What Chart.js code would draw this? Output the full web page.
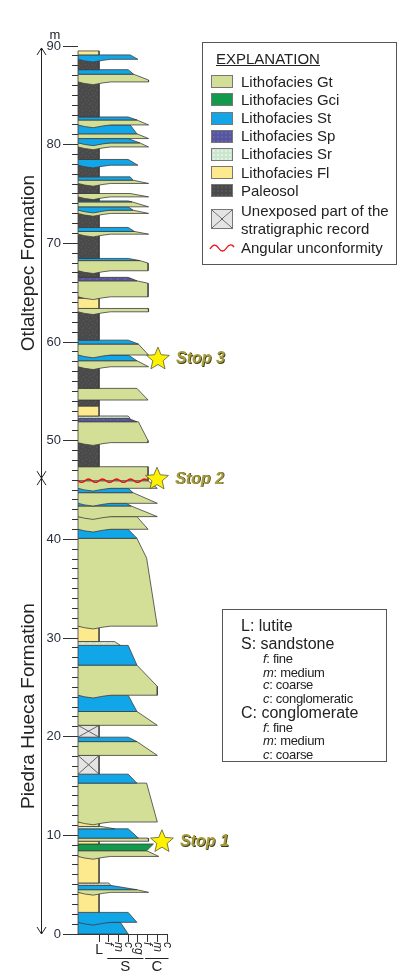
<!DOCTYPE html>
<html>
<head>
<meta charset="utf-8">
<script src="https://cdn.jsdelivr.net/npm/chart.js@4.4.1/dist/chart.umd.min.js"></script>
<style>
  html, body { margin: 0; padding: 0; background: #fff; }
  body { font-family: "Liberation Sans", Arial, sans-serif; color: #222; }
  #page { position: relative; width: 399px; height: 973px; overflow: hidden; }
  #column { position: absolute; left: 0; top: 0; }
  .box { position: absolute; border: 1px solid #555; box-sizing: border-box; }
  .box span { position: absolute; white-space: nowrap; }
  .big { font-size: 15px; line-height: 18px; }
  .small { font-size: 13px; line-height: 14px; letter-spacing: -0.3px; }
  .sw { position: absolute; left: 8px; width: 22px; height: 13px; box-sizing: border-box; border: 1px solid #777; }
</style>
</head>
<body>
<div id="page">
  <canvas id="column" width="399" height="973"></canvas>

  <div class="box" style="left:202px;top:42px;width:195px;height:223px">
    <span class="big" style="left:13px;top:7px;text-decoration:underline">EXPLANATION</span>
    <div class="sw" style="top:32px;background:#d3df97"></div><span class="big" style="left:38px;top:30px">Lithofacies Gt</span>
    <div class="sw" style="top:50px;background:#119a4b"></div><span class="big" style="left:38px;top:48px">Lithofacies Gci</span>
    <div class="sw" style="top:69px;background:#13a5e6"></div><span class="big" style="left:38px;top:66px">Lithofacies St</span>
    <div class="sw" style="top:87px;background:#55569d radial-gradient(#6b6cb2 0.6px, transparent 0.9px) 0 0/4px 4px"></div><span class="big" style="left:38px;top:84px">Lithofacies Sp</span>
    <div class="sw" style="top:105px;background:#cbe5ce radial-gradient(#eef8ee 0.6px, transparent 0.9px) 0 0/4px 4px"></div><span class="big" style="left:38px;top:102px">Lithofacies Sr</span>
    <div class="sw" style="top:123px;background:#fde98e"></div><span class="big" style="left:38px;top:121px">Lithofacies Fl</span>
    <div class="sw" style="top:141px;background:#4a4a4a radial-gradient(#5c5c5c 0.6px, transparent 0.9px) 0 0/4px 4px"></div><span class="big" style="left:38px;top:139px">Paleosol</span>
    <div class="sw" style="top:166px;height:20px;background:linear-gradient(to top right, transparent calc(50% - 0.6px), #555 50%, transparent calc(50% + 0.6px)), linear-gradient(to bottom right, transparent calc(50% - 0.6px), #555 50%, transparent calc(50% + 0.6px)), #e4e4e4"></div>
    <span class="big" style="left:38px;top:159px">Unexposed part of the</span>
    <span class="big" style="left:38px;top:177px">stratigraphic record</span>
    <svg style="position:absolute;left:6px;top:199px" width="26" height="12"><path d="M1 7 C4 2,7 2,9.5 6 S15 10,17.5 6 S23 2,25 5" fill="none" stroke="#e5131b" stroke-width="1.4"/></svg>
    <span class="big" style="left:38px;top:196px">Angular unconformity</span>
  </div>

  <div class="box" style="left:222px;top:609px;width:165px;height:153px">
    <span class="big" style="left:18px;top:7px;font-size:16px">L: lutite</span>
    <span class="big" style="left:18px;top:25px;font-size:16px">S: sandstone</span>
    <span class="small" style="left:40px;top:42px"><i>f</i>: fine</span>
    <span class="small" style="left:40px;top:56px"><i>m</i>: medium</span>
    <span class="small" style="left:40px;top:68px"><i>c</i>: coarse</span>
    <span class="small" style="left:40px;top:82px"><i>c</i>: conglomeratic</span>
    <span class="big" style="left:18px;top:94px;font-size:16px">C: conglomerate</span>
    <span class="small" style="left:40px;top:111px"><i>f</i>: fine</span>
    <span class="small" style="left:40px;top:124px"><i>m</i>: medium</span>
    <span class="small" style="left:40px;top:138px"><i>c</i>: coarse</span>
  </div>
</div>

<script>
// grain-size axis (0 = column edge, L = lutite, then sandstone and conglomerate classes)
const COLUMN_LEFT = -0.17;
const grainTicks = [2, 3, 4, 5, 6, 7, 8, 9];
const grainLabels = ['L', 'f', 'm', 'c', 'cg', 'f', 'm', 'c'];
const grainGroups = [['S', 3, 6], ['C', 7, 9]];

// beds: [base m, top m, facies, grain at base, grain at top, erosive base, [m, grain] bend]
const piedraHuecaBeds = [
    [0.00, 1.18, 'St', 5.0, 4.2],
    [1.18, 2.19, 'St', 5.9, 5.0, 1],
    [2.19, 4.22, 'Fl', 2, 2],
    [4.22, 4.49, 'Gt', 7.1, 5.9, 1],
    [4.49, 4.93, 'St', 5.9, 3.15],
    [4.93, 5.17, 'Sr', 3.2, 3.0],
    [5.17, 7.86, 'Fl', 2, 2],
    [7.86, 8.44, 'Gt', 8.15, 6.9, 1],
    [8.44, 9.12, 'Gci', 6.9, 7.6],
    [9.12, 9.40, 'Fl', 2, 2],
    [9.40, 9.72, 'Gt', 7.1, 7.05],
    [9.72, 10.66, 'St', 6.05, 5.0],
    [10.66, 10.90, 'Sr', 3.6, 2.2],
    [10.90, 11.35, 'Fl', 2, 2],
    [11.35, 15.29, 'Gt', 8.0, 6.9, 1],
    [15.29, 16.20, 'St', 5.9, 5.0],
    [16.20, 18.10, 'U', 2, 2],
    [18.10, 19.50, 'Gt', 8.0, 5.9],
    [19.50, 19.95, 'St', 5.9, 5.0],
    [19.95, 21.15, 'U', 2, 2],
    [21.15, 22.55, 'Gt', 8.0, 5.9],
    [22.55, 24.20, 'St', 5.9, 5.0],
    [24.20, 27.25, 'Gt', 8.0, 5.9, 1, [25.1, 8.0]],
    [27.25, 29.25, 'St', 5.9, 5.0],
    [29.25, 29.64, 'Sr', 4.2, 3.6],
    [29.64, 31.20, 'Fl', 2, 2],
    [31.20, 40.10, 'Gt', 8.0, 5.9, 1, [38.1, 6.9]],
    [40.10, 41.02, 'St', 5.9, 5.0],
    [41.02, 42.30, 'Gt', 7.05, 5.9, 1],
    [42.30, 43.38, 'Gt', 8.0, 5.3, 1],
    [43.38, 43.65, 'St', 5.3, 4.8],
    [43.65, 44.73, 'Gt', 8.0, 5.5, 1],
    [44.73, 45.17, 'St', 5.5, 5.0],
    [45.17, 45.94, 'Gt', 8.0, 7.05, 1],
];

const otlaltepecBeds = [
    [45.94, 47.36, 'Gt', 7.05, 7.05],
    [47.36, 49.80, 'P', 2, 2],
    [49.80, 51.92, 'Gt', 7.05, 6.05, 1, [50.0, 7.05]],
    [51.92, 52.26, 'Sp', 5.9, 5.0],
    [52.26, 52.50, 'Sr', 5.2, 5.0],
    [52.50, 53.51, 'Fl', 2, 2],
    [53.51, 54.12, 'P', 2, 2],
    [54.12, 55.30, 'Gt', 7.05, 5.9],
    [55.30, 57.49, 'P', 2, 2],
    [57.49, 58.10, 'Gt', 7.1, 5.9, 1],
    [58.10, 58.68, 'St', 5.9, 5.0],
    [58.68, 59.79, 'Gt', 7.1, 6.05, 1],
    [59.79, 60.19, 'St', 6.05, 5.0],
    [60.19, 63.06, 'P', 2, 2],
    [63.06, 63.40, 'Gt', 7.1, 7.05, 1],
    [63.40, 64.45, 'Fl', 2, 2],
    [64.45, 64.58, 'P', 2, 2],
    [64.58, 66.20, 'Gt', 7.05, 5.9, 1, [65.95, 7.05]],
    [66.20, 66.55, 'Sp', 5.9, 5.0],
    [66.55, 67.22, 'P', 2, 2],
    [67.22, 68.25, 'Gt', 7.05, 6.2, 1, [68.0, 7.05]],
    [68.25, 68.47, 'St', 6.2, 5.0],
    [68.47, 70.93, 'P', 2, 2],
    [70.93, 71.20, 'Gt', 7.1, 5.65, 1],
    [71.20, 71.61, 'St', 5.65, 5.0],
    [71.61, 73.03, 'P', 2, 2],
    [73.03, 73.36, 'Gt', 7.1, 5.5, 1],
    [73.36, 73.70, 'St', 5.5, 5.0, 1],
    [73.70, 74.20, 'Gt', 7.1, 5.4],
    [74.20, 74.30, 'St', 5.4, 5.0],
    [74.30, 74.71, 'P', 2, 2],
    [74.71, 75.05, 'Gt', 7.1, 5.2, 1],
    [75.05, 76.07, 'P', 2, 2],
    [76.07, 76.40, 'Gt', 7.1, 5.5, 1],
    [76.40, 76.74, 'St', 5.5, 5.2],
    [76.74, 77.92, 'P', 2, 2],
    [77.92, 78.50, 'St', 6.0, 5.0, 1],
    [78.50, 79.77, 'P', 2, 2],
    [79.77, 80.18, 'Gt', 7.1, 6.2, 1],
    [80.18, 80.62, 'St', 6.2, 5.0, 1],
    [80.62, 81.10, 'Gt', 7.1, 5.9],
    [81.10, 82.00, 'St', 5.9, 5.2],
    [82.00, 82.50, 'Gt', 7.1, 5.9, 1],
    [82.50, 82.81, 'St', 5.9, 5.0],
    [82.81, 86.36, 'P', 2, 2],
    [86.36, 87.14, 'Gt', 7.1, 5.55, 1, [86.55, 7.1]],
    [87.14, 87.60, 'St', 5.55, 5.0],
    [87.60, 88.65, 'P', 2, 2],
    [88.65, 89.10, 'St', 6.0, 5.2, 1],
    [89.10, 89.50, 'Fl', 2, 2],
];

// field stops: [label, m, grain position]
const stops = [['Stop 1', 9.45, 8.48], ['Stop 2', 46.2, 7.97], ['Stop 3', 58.37, 8.07]];
// formations: [name, base m, top m]
const formations = [['Piedra Hueca Formation', 0, 46.2], ['Otlaltepec Formation', 46.2, 89.8]];
// angular unconformity: [m, reaches grain]
const unconformity = [45.94, 7.05];

/* look of the beds */
function speckle(base, dot) {
    const c = document.createElement('canvas');
    c.width = 7; c.height = 7;
    const g = c.getContext('2d');
    g.fillStyle = base;
    g.fillRect(0, 0, 7, 7);
    g.fillStyle = dot;
    [[1, 1], [4, 2], [2, 4], [6, 5], [5, 6]].forEach(([a, b]) => g.fillRect(a, b, 1, 1));
    return g.createPattern(c, 'repeat');
}
const faciesFill = {
    Gt: '#d3df97',
    Gci: '#119a4b',
    St: '#10a6e8',
    Sp: speckle('#55569d', '#6a6bb0'),
    Sr: speckle('#cbe5ce', '#eaf6eb'),
    Fl: '#fde98e',
    P: speckle('#4a4a4a', '#595959'),
    U: '#e4e4e4',
};
// shape of an erosive (scoured) base across the column: [grain, depth below base]
const SCOUR = [[3.2, 0], [2.4, 0.1], [1.4, 0.28], [0.5, 0.16]];

function bedOutline(bed) {
    const [base, top, , gBase, gTop, erosive, bend] = bed;
    const pts = [{x: COLUMN_LEFT, y: top}, {x: gTop, y: top}];
    if (bend) pts.push({x: bend[1], y: bend[0]});
    pts.push({x: gBase, y: base});
    if (erosive) SCOUR.forEach(([g, d]) => pts.push({x: g, y: base - d}));
    pts.push({x: COLUMN_LEFT, y: base});
    pts.push({x: COLUMN_LEFT, y: top});
    return pts;
}

const allBeds = piedraHuecaBeds.concat(otlaltepecBeds);
const datasets = [];
/* chart.js draws the first dataset last, so the youngest bed goes first */
allBeds.slice().reverse().forEach(bed => {
    const fac = bed[2];
    if (fac === 'U') {
        [[COLUMN_LEFT, bed[0], bed[3], bed[1]], [COLUMN_LEFT, bed[1], bed[3], bed[0]]].forEach(([a, b, c, d]) => {
            datasets.push({
                data: [{x: a, y: b}, {x: c, y: d}],
                showLine: true, fill: false, pointRadius: 0,
                borderColor: '#555', borderWidth: 0.9, clip: false,
            });
        });
    }
    datasets.push({
        data: bedOutline(bed),
        showLine: true,
        fill: 'shape',
        backgroundColor: faciesFill[fac],
        borderColor: '#3d3d3d',
        borderWidth: 0.8,
        pointRadius: 0,
        tension: 0,
        clip: false,
    });
});

function starPath(ctx, cx, cy, R, r) {
    ctx.beginPath();
    for (let i = 0; i < 10; i++) {
        const rad = i % 2 ? r : R;
        const a = -Math.PI / 2 + i * Math.PI / 5;
        ctx.lineTo(cx + rad * Math.cos(a), cy + rad * Math.sin(a));
    }
    ctx.closePath();
}

/* everything around the column: unconformity, stops, formations, grain labels */
const overlay = {
    id: 'overlay',
    afterDraw(chart) {
        const ctx = chart.ctx;
        const x = chart.scales.x;
        const y = chart.scales.y;
        const font = '"Liberation Sans", Arial, sans-serif';
        ctx.save();

        // angular unconformity
        const ux0 = x.getPixelForValue(COLUMN_LEFT);
        const ux1 = x.getPixelForValue(unconformity[1]);
        const uy = y.getPixelForValue(unconformity[0]);
        ctx.strokeStyle = '#e5131b';
        ctx.lineWidth = 1.5;
        ctx.beginPath();
        for (let px = ux0; px <= ux1; px += 0.5) {
            const py = uy + 1.6 * Math.sin((px - ux0) / 14 * 2 * Math.PI);
            if (px === ux0) ctx.moveTo(px, py); else ctx.lineTo(px, py);
        }
        ctx.stroke();

        // stops
        stops.forEach(([label, m, g]) => {
            const cx = x.getPixelForValue(g);
            const cy = y.getPixelForValue(m);
            starPath(ctx, cx, cy + 1, 12, 5.4);
            ctx.fillStyle = '#fff200';
            ctx.fill();
            ctx.strokeStyle = '#5a5a3a';
            ctx.lineWidth = 0.8;
            ctx.stroke();
            ctx.font = 'italic bold 16px ' + font;
            ctx.textAlign = 'left';
            ctx.textBaseline = 'middle';
            ctx.fillStyle = '#3d3915';
            ctx.fillText(label, cx + 18.8, cy + 1.8);
            ctx.fillStyle = '#a69d3e';
            ctx.fillText(label, cx + 18, cy + 1);
        });

        // formation arrows and names
        const ax = 41.5;
        ctx.strokeStyle = '#222';
        ctx.lineWidth = 1;
        ctx.fillStyle = '#222';
        ctx.beginPath();
        ctx.moveTo(ax, y.getPixelForValue(formations[1][2]));
        ctx.lineTo(ax, y.getPixelForValue(formations[0][1]));
        formations.forEach(([name, base, top]) => {
            const yb = y.getPixelForValue(base);
            const yt = y.getPixelForValue(top);
            ctx.moveTo(ax - 4.5, yt + 7); ctx.lineTo(ax, yt); ctx.lineTo(ax + 4.5, yt + 7);
            ctx.moveTo(ax - 4.5, yb - 7); ctx.lineTo(ax, yb); ctx.lineTo(ax + 4.5, yb - 7);
        });
        ctx.stroke();
        ctx.font = '19px ' + font;
        ctx.textAlign = 'center';
        ctx.textBaseline = 'alphabetic';
        formations.forEach(([name, base, top]) => {
            ctx.save();
            ctx.translate(33.5, y.getPixelForValue((base + top) / 2));
            ctx.rotate(-Math.PI / 2);
            ctx.fillText(name, 0, 0);
            ctx.restore();
        });

        // depth unit
        ctx.font = '13px ' + font;
        ctx.textBaseline = 'middle';
        ctx.fillText('m', 55, y.getPixelForValue(90) - 11);

        // grain-size labels
        const labTop = x.top + 9;
        grainTicks.forEach((v, i) => {
            const px = x.getPixelForValue(v);
            if (i === 0) {
                ctx.font = '14px ' + font;
                ctx.textAlign = 'center';
                ctx.textBaseline = 'top';
                ctx.fillText(grainLabels[i], px, labTop);
            } else {
                ctx.save();
                ctx.translate(px, labTop - 1);
                ctx.rotate(Math.PI / 2);
                ctx.font = 'italic 12px ' + font;
                ctx.textAlign = 'left';
                ctx.textBaseline = 'middle';
                ctx.fillText(grainLabels[i], 0, 0);
                ctx.restore();
            }
        });
        ctx.font = '15px ' + font;
        ctx.textAlign = 'center';
        ctx.textBaseline = 'middle';
        ctx.lineWidth = 1;
        grainGroups.forEach(([name, a, b], i) => {
            const xa = x.getPixelForValue(a) - (i ? 2.5 : 1.5);
            const xb = x.getPixelForValue(b) + (i ? 1.5 : 5.5);
            const ly = x.top + 24.5;
            ctx.beginPath();
            ctx.moveTo(xa, ly); ctx.lineTo(xb, ly);
            ctx.stroke();
            ctx.fillText(name, (xa + xb) / 2, ly + 8);
        });
        ctx.restore();
    }
};

new Chart(document.getElementById('column'), {
    type: 'scatter',
    data: { datasets: datasets },
    options: {
        responsive: false,
        animation: false,
        events: [],
        layout: { padding: { top: 46, right: 232, bottom: 0, left: 0 } },
        plugins: { legend: { display: false }, tooltip: { enabled: false } },
        scales: {
            x: {
                type: 'linear', position: 'bottom', min: COLUMN_LEFT, max: 9,
                afterBuildTicks: s => { s.ticks = grainTicks.map(v => ({ value: v })); },
                afterFit: s => { s.height = 39; },
                ticks: { display: false },
                grid: { drawOnChartArea: false, tickLength: 8, color: '#333' },
                border: { display: true, color: '#333', width: 1 },
            },
            y: {
                type: 'linear', position: 'left', weight: 0, min: 0, max: 90,
                ticks: { display: false, stepSize: 1, autoSkip: false, maxTicksLimit: 200 },
                afterFit: s => { s.width = 6; },
                grid: { drawOnChartArea: false, tickLength: 6, color: '#333' },
                border: { display: false },
            },
            y2: {
                type: 'linear', axis: 'y', position: 'left', weight: 1, min: 0, max: 90,
                ticks: { stepSize: 10, padding: 2, autoSkip: false, color: '#2a2f3f',
                         font: { family: '"Liberation Sans", Arial, sans-serif', size: 13 } },
                afterFit: s => { s.width = 72; },
                grid: { drawOnChartArea: false, tickLength: 9, color: '#333' },
                border: { display: false },
            },
        },
    },
    plugins: [overlay],
});
</script>
</body>
</html>
